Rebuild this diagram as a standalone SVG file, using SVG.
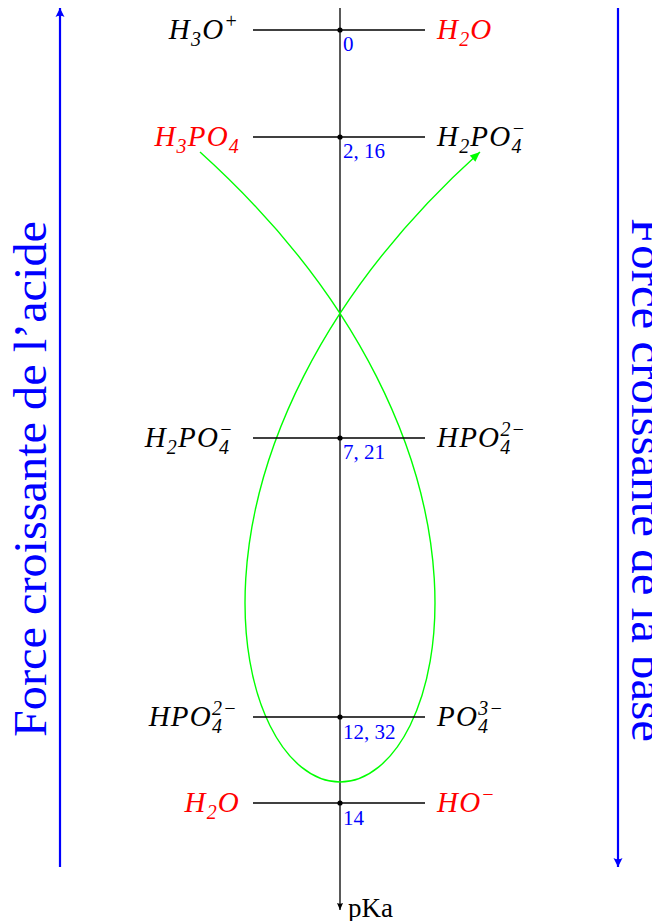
<svg xmlns="http://www.w3.org/2000/svg" width="652" height="921" viewBox="0 0 652 921">
<style>
.lbl{font-family:"Liberation Serif","Times New Roman","DejaVu Serif",serif;font-style:italic;font-size:29px;letter-spacing:1.2px;}
.s{font-size:20px;}
.num{font-family:"Liberation Serif","Times New Roman","DejaVu Serif",serif;font-size:21px;fill:#0000ff;}
.red{fill:#ff0000;}
.blk{fill:#000000;}
.tick{stroke:#000;stroke-width:1.3;fill:none;}
.dot{fill:#000;}
.big{font-family:"Liberation Serif","Times New Roman","DejaVu Serif",serif;font-size:46px;fill:#0000ff;}
.blue{stroke:#0000ff;stroke-width:2.2;fill:none;}
</style>
<defs>
<marker id="ab" markerUnits="userSpaceOnUse" markerWidth="14" markerHeight="14" refX="10" refY="6" orient="auto" viewBox="0 0 14 12">
<path d="M10,6 L1,1.5 Q3.5,6 1,10.5 Z" fill="#0000ff"/>
</marker>
<marker id="ag" markerUnits="userSpaceOnUse" markerWidth="14" markerHeight="14" refX="11" refY="6" orient="auto" viewBox="0 0 14 12">
<path d="M11,6 L1,1.8 L1,10.2 Z" fill="#00ff00"/>
</marker>
<marker id="ak" markerUnits="userSpaceOnUse" markerWidth="10" markerHeight="10" refX="8" refY="4" orient="auto" viewBox="0 0 10 8">
<path d="M8,4 L1,1 Q2.5,4 1,7 Z" fill="#000"/>
</marker>
</defs>
<rect width="652" height="921" fill="#ffffff"/>

<g id="connectors">
<path class="tick" d="M340,8 L340,910" marker-end="url(#ak)"/>
<path class="blue" d="M60,867 L60,8" marker-end="url(#ab)"/>
<path class="blue" d="M618,8 L618,867" marker-end="url(#ab)"/>
<path d="M200,152 C530,450 448,782 340,782 C232,782 150,450 480,152" fill="none" stroke="#00ff00" stroke-width="1.4" marker-end="url(#ag)"/>
</g>

<g id="level0">
<line class="tick" x1="253" y1="30" x2="425" y2="30"/>
<circle class="dot" cx="340" cy="30" r="2.6"/>
<text class="lbl blk" x="239" y="39" text-anchor="end">H<tspan class="s" dy="7">3</tspan><tspan dy="-7">O</tspan><tspan class="s" dy="-11">+</tspan></text>
<text class="lbl red" x="437" y="39">H<tspan class="s" dy="7">2</tspan><tspan dy="-7">O</tspan></text>
<text class="num" x="343" y="51">0</text>
</g>

<g id="level1">
<line class="tick" x1="253" y1="137" x2="425" y2="137"/>
<circle class="dot" cx="340" cy="137" r="2.6"/>
<text class="lbl red" x="240" y="146" text-anchor="end">H<tspan class="s" dy="7">3</tspan><tspan dy="-7">PO</tspan><tspan class="s" dy="7">4</tspan></text>
<text class="lbl blk" x="437" y="146">H<tspan class="s" dy="7">2</tspan><tspan dy="-7">PO</tspan><tspan class="s" dy="7">4</tspan><tspan class="s" dx="-11" dy="-18">−</tspan></text>
<text class="num" x="343" y="158">2, 16</text>
</g>

<g id="level2">
<line class="tick" x1="253" y1="438" x2="425" y2="438"/>
<circle class="dot" cx="340" cy="438" r="2.6"/>
<text class="lbl blk" x="234" y="447" text-anchor="end">H<tspan class="s" dy="7">2</tspan><tspan dy="-7">PO</tspan><tspan class="s" dy="7">4</tspan><tspan class="s" dx="-11" dy="-18">−</tspan></text>
<text class="lbl blk" x="437" y="447">HPO<tspan class="s" dy="7">4</tspan><tspan class="s" dx="-11" dy="-18">2−</tspan></text>
<text class="num" x="343" y="459">7, 21</text>
</g>

<g id="level3">
<line class="tick" x1="253" y1="717" x2="425" y2="717"/>
<circle class="dot" cx="340" cy="717" r="2.6"/>
<text class="lbl blk" x="238" y="726" text-anchor="end">HPO<tspan class="s" dy="7">4</tspan><tspan class="s" dx="-11" dy="-18">2−</tspan></text>
<text class="lbl blk" x="437" y="726">PO<tspan class="s" dy="7">4</tspan><tspan class="s" dx="-11" dy="-18">3−</tspan></text>
<text class="num" x="343" y="739">12, 32</text>
</g>

<g id="level4">
<line class="tick" x1="253" y1="803" x2="425" y2="803"/>
<circle class="dot" cx="340" cy="803" r="2.6"/>
<text class="lbl red" x="240" y="812" text-anchor="end">H<tspan class="s" dy="7">2</tspan><tspan dy="-7">O</tspan></text>
<text class="lbl red" x="437" y="812">HO<tspan class="s" dy="-11">−</tspan></text>
<text class="num" x="343" y="825">14</text>
</g>

<g id="axis-label">
<text x="348" y="917" font-family="'Liberation Serif','Times New Roman','DejaVu Serif',serif" font-size="27" fill="#000">pKa</text>
</g>

<g id="acid-label">
<text class="big" transform="translate(46,479) rotate(-90)" text-anchor="middle" textLength="516" lengthAdjust="spacingAndGlyphs">Force croissante de l’acide</text>
</g>
<g id="base-label">
<text class="big" transform="translate(632,480) rotate(90)" text-anchor="middle" textLength="524" lengthAdjust="spacingAndGlyphs">Force croissante de la base</text>
</g>
</svg>
